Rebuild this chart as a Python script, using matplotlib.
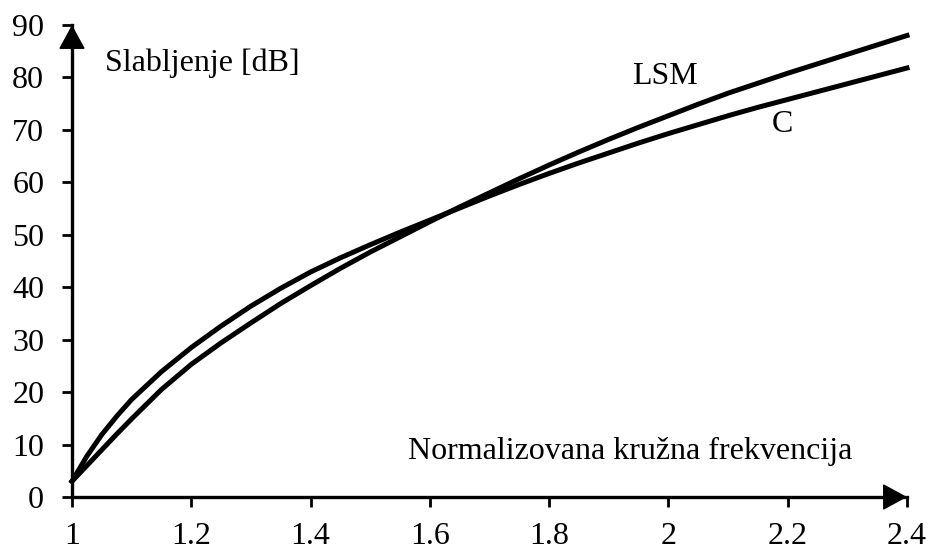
import matplotlib
matplotlib.use("Agg")
import matplotlib.pyplot as plt

# Data (normalized angular frequency vs attenuation in dB)
freq = [1.00, 1.025, 1.05, 1.075, 1.10, 1.15, 1.20, 1.25, 1.30, 1.35, 1.40, 1.45,
        1.50, 1.55, 1.60, 1.65, 1.70, 1.75, 1.80, 1.85, 1.90, 1.95, 2.00, 2.05,
        2.10, 2.15, 2.20, 2.25, 2.30, 2.35, 2.40]
att_c = [3.0, 7.8, 11.9, 15.4, 18.6, 23.9, 28.5, 32.6, 36.4, 39.8, 42.9, 45.6,
         48.1, 50.5, 52.8, 55.1, 57.4, 59.6, 61.7, 63.7, 65.6, 67.5, 69.3, 71.0,
         72.7, 74.3, 75.8, 77.3, 78.8, 80.3, 81.8]
att_lsm = [3.0, 6.0, 9.0, 12.0, 14.9, 20.5, 25.3, 29.4, 33.2, 36.9, 40.3, 43.6,
           46.7, 49.6, 52.5, 55.3, 58.0, 60.7, 63.3, 65.8, 68.2, 70.5, 72.7, 74.9,
           77.0, 78.9, 80.8, 82.6, 84.4, 86.2, 88.0]

xticks = [1, 1.2, 1.4, 1.6, 1.8, 2, 2.2, 2.4]
xticklabels = ["1", "1.2", "1.4", "1.6", "1.8", "2", "2.2", "2.4"]
yticks = [0, 10, 20, 30, 40, 50, 60, 70, 80, 90]

plt.rcParams['font.family'] = ['Liberation Serif', 'DejaVu Serif']
FS = 23

fig = plt.figure(figsize=(9.29, 5.46), dpi=100)
ax = fig.add_axes([72/929, 1 - 497/546, 835/929, 472/546])

ax.plot(freq, att_lsm, color='black', lw=3.6, solid_joinstyle='round', clip_on=False)
ax.plot(freq, att_c, color='black', lw=3.6, solid_joinstyle='round', clip_on=False)

ax.set_xlim(1, 2.4)
ax.set_ylim(0, 90)
ax.set_xticks(xticks)
ax.set_xticklabels(xticklabels)
ax.set_yticks(yticks)

for s in ['top', 'right']:
    ax.spines[s].set_visible(False)
for s in ['left', 'bottom']:
    ax.spines[s].set_linewidth(2.4)

ax.tick_params(axis='both', direction='out', length=7, width=2, labelsize=FS, colors='black')
ax.tick_params(axis='y', pad=13)
ax.tick_params(axis='x', pad=11)

# Arrow heads on axes
ax.annotate('', xy=(1, 90), xytext=(1, 89), xycoords='data',
            arrowprops=dict(arrowstyle='-|>,head_length=0.55,head_width=0.3', lw=1.2,
                            color='black', mutation_scale=28,
                            shrinkA=0, shrinkB=0), annotation_clip=False)
ax.annotate('', xy=(2.4, 0), xytext=(2.39, 0), xycoords='data',
            arrowprops=dict(arrowstyle='-|>,head_length=0.55,head_width=0.3', lw=1.2,
                            color='black', mutation_scale=28,
                            shrinkA=0, shrinkB=0), annotation_clip=False)

ax.text(1.055, 82.8, "Slabljenje [dB]", fontsize=FS, va='center', ha='left')
ax.text(1.939, 80.2, "LSM", fontsize=FS, va='center', ha='left')
ax.text(2.174, 71.0, "C", fontsize=FS, va='center', ha='left')
ax.text(1.563, 8.6, "Normalizovana kružna frekvencija", fontsize=FS, va='center', ha='left')

fig.savefig("out.png", dpi=100)
